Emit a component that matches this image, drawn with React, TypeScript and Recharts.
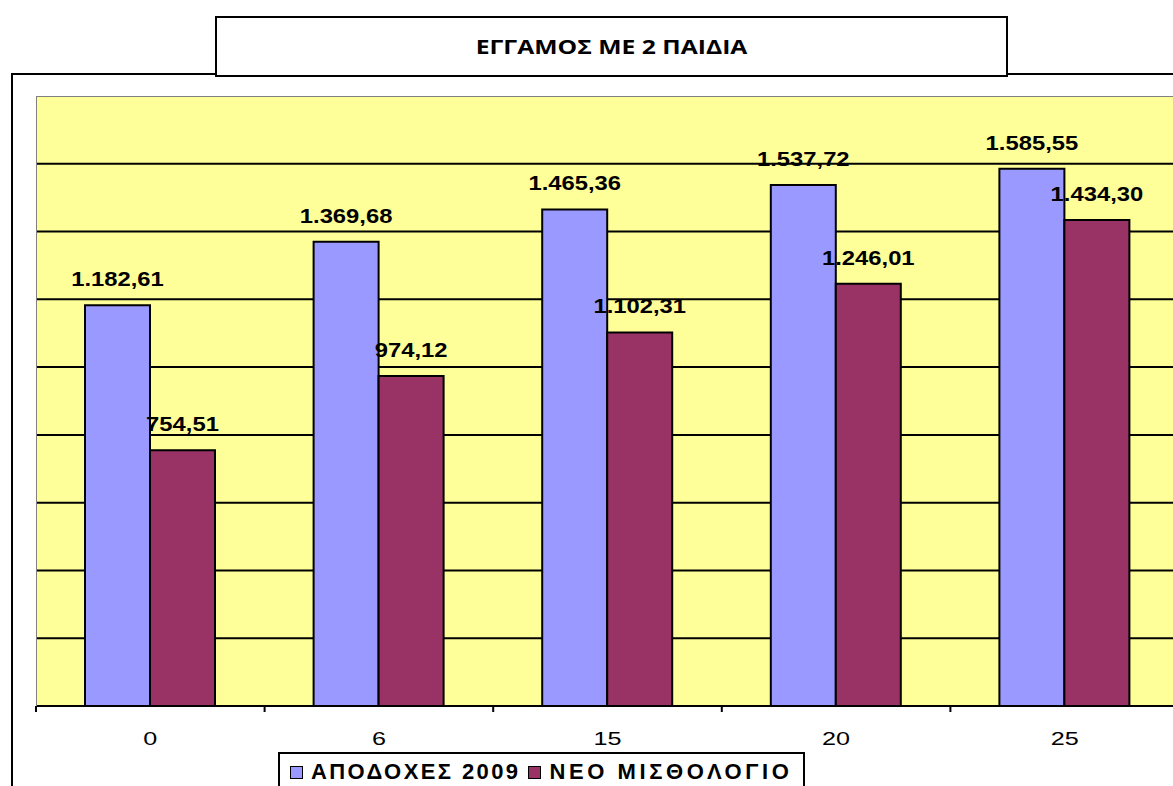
import { BarChart, Bar, XAxis, YAxis, CartesianGrid, LabelList, Legend } from 'recharts';

const categories = ['0', '6', '15', '20', '25'];
const apodoxes2009 = [1182.61, 1369.68, 1465.36, 1537.72, 1585.55];
const neoMisthologio = [754.51, 974.12, 1102.31, 1246.01, 1434.3];
const yTicks = [0, 200, 400, 600, 800, 1000, 1200, 1400, 1600];

const SERIES = [
  { key: 'a', name: 'ΑΠΟΔΟΧΕΣ 2009', color: '#9999FF' },
  { key: 'b', name: 'ΝΕΟ ΜΙΣΘΟΛΟΓΙΟ', color: '#993366' },
];

const data = categories.map((c, i) => ({ name: c, a: apodoxes2009[i], b: neoMisthologio[i] }));

const LEGEND_H = 40;
const CHART_W = 1200;
const CHART_H = 786;
const M = { top: 96, right: 21, bottom: 50 - LEGEND_H, left: 36 };
const PLOT_W = CHART_W - M.left - M.right;
const BAND = PLOT_W / categories.length;

// greek number format: 1.182,61
const fmt = (v: number) => {
  const [int, dec] = v.toFixed(2).split('.');
  return int.replace(/\B(?=(\d{3})+(?!\d))/g, '.') + ',' + dec;
};

// excel stretches its text horizontally, so do the same
const ValueLabel = (props: any) => {
  const { x, y, width, value } = props;
  return (
    <text
      transform={`translate(${x + width / 2},${y - 19}) scale(1.22,1)`}
      textAnchor="middle"
      fontFamily="'Liberation Sans', Arial"
      fontWeight="bold"
      fontSize={19.5}
      fill="#000"
    >
      {fmt(Number(value))}
    </text>
  );
};

const Tick = (props: any) => {
  const { x, y, payload, index } = props;
  const left = x - BAND / 2;
  return (
    <g>
      <line x1={left} y1={y - 8} x2={left} y2={y - 2} stroke="#000" strokeWidth={2} />
      {index === categories.length - 1 && (
        <line x1={x + BAND / 2} y1={y - 8} x2={x + BAND / 2} y2={y - 2} stroke="#000" strokeWidth={2} />
      )}
      <text
        transform={`translate(${x},${y + 31}) scale(1.4,1)`}
        textAnchor="middle"
        fontFamily="'Liberation Sans', Arial"
        fontSize={18}
        fill="#000"
      >
        {payload.value}
      </text>
    </g>
  );
};

const LegendBox = () => (
  <div
    style={{
      border: '2px solid #000',
      background: '#fff',
      width: 527,
      height: LEGEND_H,
      boxSizing: 'border-box',
      display: 'flex',
      alignItems: 'center',
      paddingLeft: 10,
      fontFamily: "'Liberation Sans', Arial",
      fontWeight: 'bold',
      fontSize: 22,
      letterSpacing: 2.4,
      whiteSpace: 'nowrap',
      overflow: 'hidden',
    }}
  >
    {SERIES.map((s, i) => (
      <span key={s.key} style={{ display: 'flex', alignItems: 'center', marginRight: 8, letterSpacing: i ? 3.6 : 2.4 }}>
        <span style={{ width: 11, height: 11, background: s.color, border: '1.5px solid #000', marginRight: 8 }} />
        {s.name}
      </span>
    ))}
  </div>
);

export default function App() {
  return (
    <div style={{ position: 'absolute', left: 0, top: 0, width: 1173, height: 786, overflow: 'hidden', background: '#fff' }}>
      <div style={{ position: 'absolute', left: 11, top: 73, width: 1300, height: 800, border: '2px solid #000' }} />
      <div
        style={{
          position: 'absolute',
          left: 215,
          top: 16,
          width: 793,
          height: 61,
          boxSizing: 'border-box',
          border: '2px solid #000',
          background: '#fff',
          display: 'flex',
          alignItems: 'center',
          justifyContent: 'center',
          fontFamily: "'Open Sans', 'Noto Sans', sans-serif",
          fontWeight: 'bold',
          fontSize: 19,
          zIndex: 2,
        }}
      >
        <span style={{ display: 'inline-block', transform: 'scale(1.3,1)' }}>ΕΓΓΑΜΟΣ ΜΕ 2 ΠΑΙΔΙΑ</span>
      </div>
      <div style={{ position: 'absolute', left: 0, top: 0 }}>
        <BarChart width={CHART_W} height={CHART_H} data={data} margin={M} barSize={65} barGap={0}>
          <CartesianGrid vertical={false} fill="#FFFF99" stroke="#000" strokeWidth={2} horizontalValues={yTicks} />
          <XAxis dataKey="name" height={30} tickLine={false} axisLine={{ stroke: '#000', strokeWidth: 2 }} tick={<Tick />} interval={0} />
          <YAxis hide domain={[0, 1800]} ticks={yTicks} />
          {SERIES.map(s => (
            <Bar key={s.key} dataKey={s.key} name={s.name} fill={s.color} stroke="#000" strokeWidth={2} isAnimationActive={false}>
              <LabelList dataKey={s.key} content={<ValueLabel />} />
            </Bar>
          ))}
          <Legend content={<LegendBox />} wrapperStyle={{ position: 'absolute', left: 278, top: 752, width: 527 }} />
        </BarChart>
      </div>
      <div
        style={{
          position: 'absolute',
          left: M.left,
          top: M.top,
          width: 1200,
          height: 609,
          borderTop: '1px solid #808080',
          borderLeft: '1px solid #808080',
          pointerEvents: 'none',
        }}
      />
    </div>
  );
}
